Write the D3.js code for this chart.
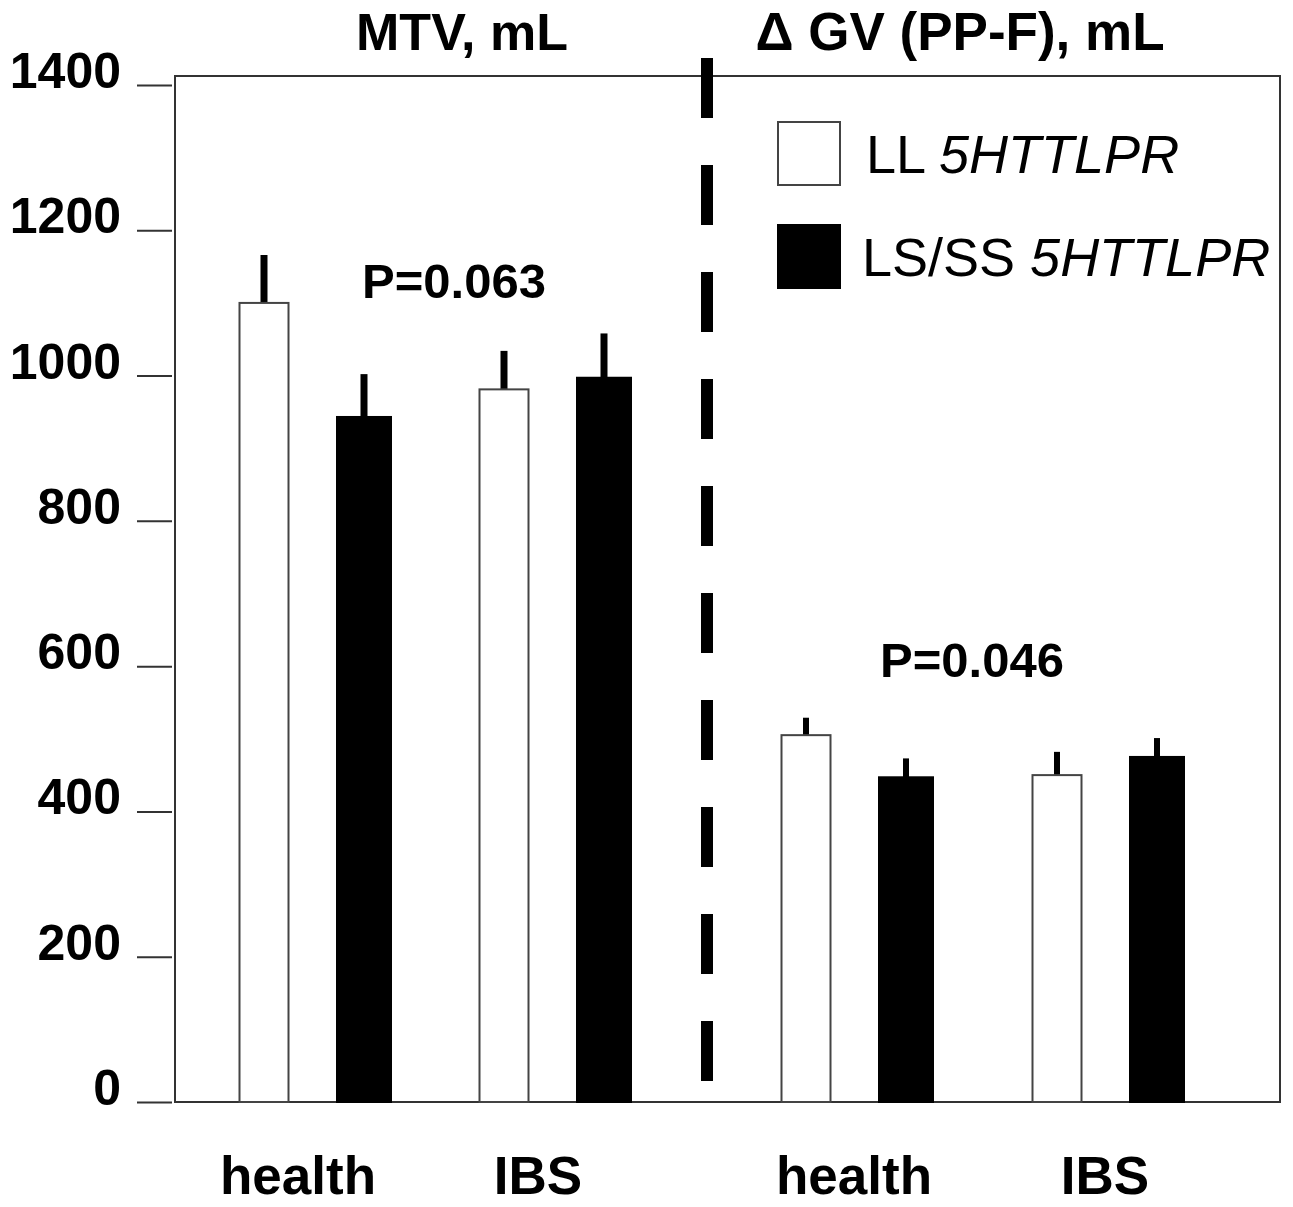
<!DOCTYPE html>
<html>
<head>
<meta charset="utf-8">
<script src="https://cdn.jsdelivr.net/npm/d3@7"></script>
<style>
  body { margin: 0; background: #fff; }
  text { font-family: "Liberation Sans", Arial, sans-serif; fill: #000; }
</style>
</head>
<body>
<div id="chart"></div>
<script>
// values
var panels    = ["MTV, mL", "\u0394 GV (PP-F), mL"];
var groups    = ["health", "IBS"];
var genotypes = ["LL", "LS/SS"];
var pValues   = ["P=0.063", "P=0.046"];

var mtvLL    = [1100, 981],  mtvLLErr = [66, 53];
var mtvLS    = [943, 997],   mtvLSErr = [59, 61];
var gvLL     = [505, 450],   gvLLErr  = [24, 32];
var gvLS     = [447, 475],   gvLSErr  = [26, 26];

var yTicks = [0, 200, 400, 600, 800, 1000, 1200, 1400];

var width = 1293, height = 1207;

var frameLeft = 175, frameRight = 1280, frameTop = 76, baseY = 1102;

var y = d3.scaleLinear().domain([0, 1400]).range([baseY, 85]);

// one point scale per panel (group centres)
var xPanel = [
  d3.scalePoint().domain(groups).range([314, 554]),
  d3.scalePoint().domain(groups).range([856, 1107])
];
var xGeno = d3.scalePoint().domain(genotypes).range([-50, 50]);
var barW  = { "LL": 49, "LS/SS": 54 };

var rows = [];
[[mtvLL, mtvLLErr, mtvLS, mtvLSErr], [gvLL, gvLLErr, gvLS, gvLSErr]].forEach(function (p, pi) {
  groups.forEach(function (g, gi) {
    rows.push({ panel: pi, group: g, geno: "LL",    v: p[0][gi], e: p[1][gi] });
    rows.push({ panel: pi, group: g, geno: "LS/SS", v: p[2][gi], e: p[3][gi] });
  });
});

var svg = d3.select('#chart').append('svg')
    .attr('width', width)
    .attr('height', height);

// frame
svg.append('rect')
    .attr('x', frameLeft).attr('y', frameTop)
    .attr('width', frameRight - frameLeft).attr('height', baseY - frameTop)
    .attr('fill', 'none').attr('stroke', '#333').attr('stroke-width', 2);

// y axis ticks + labels
var yAxis = svg.append('g').attr('transform', 'translate(172,0)')
    .call(d3.axisLeft(y).tickValues(yTicks).tickSize(35).tickPadding(16).tickFormat(d3.format('d')));
yAxis.select('.domain').remove();
yAxis.selectAll('.tick line').attr('stroke', '#333').attr('stroke-width', 2);
yAxis.selectAll('.tick text')
    .attr('dy', '0.05em')
    .style('font-size', '50px').style('font-weight', 'bold');

// error bars
svg.selectAll('line.err').data(rows).enter().append('line')
    .attr('class', 'err')
    .attr('x1', function (d) { return xPanel[d.panel](d.group) + xGeno(d.geno); })
    .attr('x2', function (d) { return xPanel[d.panel](d.group) + xGeno(d.geno); })
    .attr('y1', function (d) { return y(d.v); })
    .attr('y2', function (d) { return y(d.v + d.e); })
    .attr('stroke', '#000')
    .attr('stroke-width', function (d) { return d.panel === 0 ? 7 : 6; });

// bars
svg.selectAll('rect.bar').data(rows).enter().append('rect')
    .attr('class', 'bar')
    .attr('x', function (d) { return xPanel[d.panel](d.group) + xGeno(d.geno) - barW[d.geno] / 2; })
    .attr('width', function (d) { return barW[d.geno]; })
    .attr('y', function (d) { return y(d.v); })
    .attr('height', function (d) { return baseY - y(d.v); })
    .attr('fill', function (d) { return d.geno === "LL" ? '#fff' : '#000'; })
    .attr('stroke', function (d) { return d.geno === "LL" ? '#444' : '#000'; })
    .attr('stroke-width', 2);

// dashed separator
svg.append('line')
    .attr('x1', 707).attr('x2', 707)
    .attr('y1', 58).attr('y2', 1082)
    .attr('stroke', '#000').attr('stroke-width', 12)
    .attr('stroke-dasharray', '60,47');

// panel titles
svg.selectAll('text.title').data(panels).enter().append('text')
    .attr('class', 'title')
    .attr('x', function (d, i) { return i === 0 ? 462 : 960; })
    .attr('y', 50)
    .attr('text-anchor', 'middle')
    .style('font-size', function (d, i) { return i === 0 ? '52px' : '53px'; })
    .style('font-weight', 'bold')
    .text(function (d) { return d; });

// p values
svg.selectAll('text.pval').data(pValues).enter().append('text')
    .attr('class', 'pval')
    .attr('x', function (d, i) { return i === 0 ? 362 : 880; })
    .attr('y', function (d, i) { return i === 0 ? 298 : 677; })
    .style('font-size', '49px').style('font-weight', 'bold')
    .text(function (d) { return d; });

// category labels
[0, 1].forEach(function (pi) {
  svg.selectAll('text.cat' + pi).data(groups).enter().append('text')
      .attr('x', function (d) { return xPanel[pi](d) - (pi === 0 ? 16 : 2); })
      .attr('y', 1194)
      .attr('text-anchor', 'middle')
      .style('font-size', '53px').style('font-weight', 'bold')
      .text(function (d) { return d; });
});

// legend
var legend = svg.selectAll('g.leg').data(genotypes).enter().append('g')
    .attr('transform', function (d, i) { return 'translate(778,' + (122 + i * 103) + ')'; });
legend.append('rect')
    .attr('width', 62).attr('height', 63)
    .attr('fill', function (d) { return d === "LL" ? '#fff' : '#000'; })
    .attr('stroke', function (d) { return d === "LL" ? '#444' : '#000'; })
    .attr('stroke-width', 2);
var lt = legend.append('text')
    .attr('x', function (d, i) { return i === 0 ? 88 : 84; })
    .attr('y', 51)
    .style('font-size', '54px');
lt.append('tspan').text(function (d) { return d + ' '; });
lt.append('tspan').style('font-style', 'italic').text('5HTTLPR');
</script>
</body>
</html>
